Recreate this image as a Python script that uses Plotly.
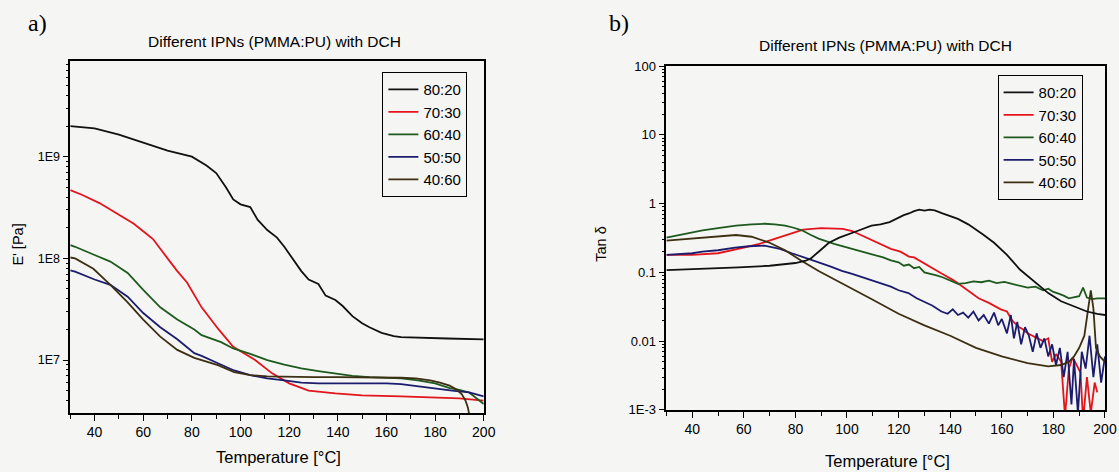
import plotly.graph_objects as go

W, H = 1119, 472
BG = "#f5f5f3"
FONT = "Liberation Sans, Arial, sans-serif"
# empirical correction between figure pixels and photographed page pixels
SX, SY, OY = 0.9857, 0.966, 8.0

series_names = ["80:20", "70:30", "60:40", "50:50", "40:60"]
series_colors = ["#111111", "#e3141b", "#1e5a1e", "#1c1c6e", "#3d2f12"]

# ---------- panel a) storage modulus E' [Pa] ----------
a_T_8020 = [30, 40, 50, 60, 70, 80, 86, 90, 94, 97, 100, 104, 107, 111, 115, 118, 121, 125, 128, 130, 132, 135, 139, 142, 146, 150, 153, 158, 163, 166, 175, 185, 200]
a_E_8020 = [2.0e9, 1.9e9, 1.65e9, 1.37e9, 1.15e9, 1.0e9, 8.2e8, 6.9e8, 5.0e8, 3.8e8, 3.4e8, 3.2e8, 2.4e8, 1.9e8, 1.6e8, 1.3e8, 1.02e8, 7.5e7, 6.2e7, 5.9e7, 5.6e7, 4.3e7, 3.9e7, 3.4e7, 2.7e7, 2.3e7, 2.1e7, 1.85e7, 1.72e7, 1.68e7, 1.65e7, 1.63e7, 1.6e7]

a_T_7030 = [30, 35, 42, 50, 56, 60, 64, 70, 74, 78, 84, 91, 97, 106, 113, 120, 128, 139, 150, 166, 180, 190, 200]
a_E_7030 = [4.7e8, 4.2e8, 3.5e8, 2.7e8, 2.2e8, 1.85e8, 1.55e8, 1.0e8, 7.5e7, 5.8e7, 3.3e7, 2.0e7, 1.35e7, 1.0e7, 7.4e6, 5.9e6, 5.0e6, 4.7e6, 4.5e6, 4.4e6, 4.3e6, 4.2e6, 4.0e6]

a_T_6040 = [30, 32, 40, 46.5, 53.6, 60, 67, 74, 81, 84, 92, 97, 104, 111, 118, 125, 132, 139, 146, 153, 160, 166, 173, 180, 186, 190, 194, 200]
a_E_6040 = [1.35e8, 1.3e8, 1.08e8, 9.3e7, 7.2e7, 4.9e7, 3.3e7, 2.5e7, 2.0e7, 1.76e7, 1.5e7, 1.3e7, 1.15e7, 1.0e7, 9.0e6, 8.3e6, 7.8e6, 7.4e6, 7.0e6, 6.8e6, 6.7e6, 6.6e6, 6.3e6, 5.9e6, 5.3e6, 5.1e6, 4.8e6, 3.7e6]

a_T_5050 = [30, 32, 40, 46.5, 53.6, 60, 67, 74, 81, 84, 90.7, 97.4, 104, 111, 118, 125, 132, 139, 146, 153, 160, 166, 173, 180, 187, 194, 200]
a_E_5050 = [7.6e7, 7.4e7, 6.2e7, 5.5e7, 4.2e7, 2.9e7, 2.1e7, 1.6e7, 1.17e7, 1.1e7, 9.3e6, 7.9e6, 7.1e6, 6.6e6, 6.3e6, 6.0e6, 5.9e6, 5.9e6, 6.0e6, 6.0e6, 5.9e6, 5.8e6, 5.5e6, 5.2e6, 5.0e6, 4.8e6, 4.4e6]

a_T_4060 = [30, 32, 39.5, 46.5, 53.6, 60, 67, 74, 81, 90.7, 97.4, 104, 111, 120, 130, 140, 150, 160, 166, 172, 178, 182, 186, 189, 191, 192.5, 193.5, 194.5]
a_E_4060 = [1.02e8, 1.0e8, 7.9e7, 5.5e7, 3.7e7, 2.5e7, 1.7e7, 1.26e7, 1.05e7, 8.9e6, 7.6e6, 7.1e6, 6.9e6, 6.8e6, 6.8e6, 6.8e6, 6.8e6, 6.8e6, 6.7e6, 6.6e6, 6.3e6, 6.0e6, 5.6e6, 5.1e6, 4.6e6, 4.0e6, 3.4e6, 2.5e6]

# ---------- panel b) Tan delta ----------
b_T_8020 = [30, 45, 58, 70, 75, 80, 84, 86, 89, 93, 97, 101, 104, 109.5, 113, 116.5, 119, 122, 124, 126, 128, 130, 132, 134, 137, 140, 143, 147, 150, 153, 157, 162, 167, 173.5, 178, 183, 188, 193, 197, 200]
b_V_8020 = [0.108, 0.112, 0.118, 0.125, 0.13, 0.137, 0.148, 0.16, 0.2, 0.27, 0.32, 0.36, 0.4, 0.48, 0.5, 0.54, 0.6, 0.68, 0.72, 0.78, 0.82, 0.79, 0.82, 0.8, 0.72, 0.66, 0.6, 0.5, 0.42, 0.35, 0.27, 0.18, 0.11, 0.068, 0.05, 0.038, 0.032, 0.027, 0.025, 0.024]

b_T_7030 = [30, 40, 50, 56, 60, 66, 72, 77.5, 83, 90, 95, 98.4, 102, 106.8, 112, 117, 120.7, 124, 126, 128, 130, 133, 137, 141.5, 146, 151, 155, 159.6, 162, 164, 166.6, 168, 170, 173.5, 176, 178, 179.5, 181, 183, 184.5, 186, 187.5, 189, 190.5, 191.5, 193, 194.5, 196, 197]
b_V_7030 = [0.18, 0.18, 0.19, 0.21, 0.23, 0.26, 0.31, 0.36, 0.42, 0.44, 0.44, 0.43, 0.4, 0.33, 0.27, 0.22, 0.2, 0.17, 0.165, 0.15, 0.135, 0.118, 0.095, 0.076, 0.058, 0.042, 0.036, 0.029, 0.027, 0.02, 0.016, 0.015, 0.013, 0.011, 0.010, 0.011, 0.005, 0.0065, 0.005, 0.0008, 0.004, 0.0058, 0.0045, 0.0035, 0.0007, 0.003, 0.0009, 0.0025, 0.0018]

b_T_6040 = [30, 37, 44, 50, 57, 63, 68, 72, 76, 79, 82.5, 86, 89, 95, 101.8, 106, 110.7, 114, 117, 120, 122, 124, 126, 128, 130, 132.7, 135, 137, 140, 143, 146, 149, 152, 155, 158, 161, 164, 167, 170, 173, 176, 178, 180, 182, 184, 186, 188, 190, 191.5, 193, 195, 197, 200]
b_V_6040 = [0.32, 0.36, 0.41, 0.44, 0.48, 0.5, 0.51, 0.5, 0.48, 0.45, 0.41, 0.35, 0.31, 0.26, 0.22, 0.2, 0.18, 0.165, 0.15, 0.14, 0.125, 0.13, 0.115, 0.12, 0.1, 0.095, 0.09, 0.085, 0.075, 0.068, 0.07, 0.074, 0.072, 0.076, 0.07, 0.073, 0.068, 0.064, 0.06, 0.062, 0.055, 0.058, 0.052, 0.049, 0.046, 0.042, 0.044, 0.045, 0.06, 0.043, 0.041, 0.042, 0.042]

b_T_5050 = [30, 40, 44, 50, 56.6, 62, 68, 74, 78.6, 84, 89, 94, 98, 102, 106, 110.7, 114, 117, 120, 123.8, 127, 130, 133, 136.6, 139, 141, 143, 145, 147, 149, 151, 153, 155, 157, 158.6, 160, 162, 163.5, 164.7, 166, 167.5, 169, 170.5, 172, 173.5, 175, 176.5, 178, 179.5, 181, 182.5, 184, 185.5, 187, 188, 189.5, 191, 192.5, 194, 195.5, 197, 198.5, 200]
b_V_5050 = [0.18, 0.19, 0.2, 0.21, 0.23, 0.24, 0.245, 0.22, 0.19, 0.16, 0.14, 0.12, 0.105, 0.095, 0.085, 0.075, 0.068, 0.062, 0.055, 0.05, 0.042, 0.037, 0.033, 0.027, 0.025, 0.029, 0.024, 0.026, 0.022, 0.027, 0.02, 0.024, 0.018, 0.026, 0.017, 0.021, 0.013, 0.024, 0.011, 0.019, 0.009, 0.016, 0.012, 0.007, 0.013, 0.008, 0.011, 0.006, 0.009, 0.0045, 0.008, 0.003, 0.007, 0.0012, 0.0055, 0.0009, 0.007, 0.004, 0.012, 0.003, 0.009, 0.0025, 0.006]

b_T_4060 = [30, 40, 50, 57, 63, 70, 76, 82, 89, 95, 102, 110, 120, 130, 140, 150, 160, 170, 178, 183, 186, 188, 190, 192, 193.5, 194.5, 195.5, 196.5, 198, 200]
b_V_4060 = [0.29, 0.31, 0.33, 0.35, 0.33, 0.27, 0.21, 0.15, 0.105, 0.08, 0.058, 0.04, 0.025, 0.017, 0.012, 0.008, 0.006, 0.0048, 0.0043, 0.0045, 0.005, 0.006, 0.008, 0.012, 0.03, 0.055, 0.03, 0.008, 0.006, 0.005]

a_x = [a_T_8020, a_T_7030, a_T_6040, a_T_5050, a_T_4060]
a_y = [a_E_8020, a_E_7030, a_E_6040, a_E_5050, a_E_4060]
b_x = [b_T_8020, b_T_7030, b_T_6040, b_T_5050, b_T_4060]
b_y = [b_V_8020, b_V_7030, b_V_6040, b_V_5050, b_V_4060]

a_tickvals = [1e7, 1e8, 1e9]
a_ticktext = ["1E7", "1E8", "1E9"]
b_tickvals = [1e-3, 1e-2, 1e-1, 1, 10, 100]
b_ticktext = ["1E-3", "0.01", "0.1", "1", "10", "100"]
A_RANGE = [6.48, 9.94]
B_RANGE = [-3, 2]


def px_x(p):
    return (p / SX) / W


def px_y(p):
    return 1 - ((p - OY) / SY) / H


def minor_log(lo, hi):
    vals = []
    for k in range(lo, hi):
        for m in range(2, 10):
            vals.append(m * 10.0 ** k)
    return vals


fig = go.Figure()
# the first series of each panel is drawn on an overlay y axis (identical range)
# that only carries the minor ticks
for i in range(5):
    fig.add_trace(go.Scatter(x=a_x[i], y=a_y[i], mode="lines", name=series_names[i],
                             line=dict(color=series_colors[i], width=1.8),
                             xaxis="x", yaxis="y3" if i == 0 else "y", legend="legend"))
for i in range(5):
    fig.add_trace(go.Scatter(x=b_x[i], y=b_y[i], mode="lines", name=series_names[i],
                             line=dict(color=series_colors[i], width=1.8),
                             xaxis="x2", yaxis="y4" if i == 0 else "y2", legend="legend2"))

axis_common = dict(showline=True, linecolor="black", linewidth=1.5, mirror=True,
                   ticks="outside", ticklen=6, tickwidth=1.2, tickcolor="black",
                   showgrid=False, zeroline=False)
xfont = dict(family=FONT, size=14, color="black")
yfont = dict(family=FONT, size=12.5, color="black")
xminor = dict(dtick=10, tick0=0, ticks="outside", ticklen=4, tickcolor="black", tickwidth=1.2)
yminor_common = dict(side="left", type="log", tickmode="array", showticklabels=False,
                     ticks="outside", ticklen=3, tickwidth=1, tickcolor="black",
                     showline=False, showgrid=False, zeroline=False)

fig.update_layout(
    width=W, height=H, autosize=False,
    margin=dict(l=0, r=0, t=0, b=0),
    paper_bgcolor=BG, plot_bgcolor=BG,
    showlegend=True,
    xaxis=dict(domain=[px_x(70), px_x(482)], range=[30, 200], anchor="y",
               tickmode="linear", tick0=0, dtick=20, tickfont=xfont, minor=xminor,
               **axis_common),
    yaxis=dict(domain=[px_y(413), px_y(62)], type="log", range=A_RANGE, anchor="x",
               tickmode="array", tickvals=a_tickvals, ticktext=a_ticktext, tickfont=yfont,
               **axis_common),
    yaxis3=dict(overlaying="y", anchor="x", range=A_RANGE, tickvals=minor_log(6, 10), **yminor_common),
    xaxis2=dict(domain=[px_x(664), px_x(1101)], range=[30, 200], anchor="y2",
                tickmode="linear", tick0=0, dtick=20, tickfont=xfont, minor=xminor,
                **axis_common),
    yaxis2=dict(domain=[px_y(410), px_y(67)], type="log", range=B_RANGE, anchor="x2",
                tickmode="array", tickvals=b_tickvals, ticktext=b_ticktext,
                tickfont=dict(family=FONT, size=13, color="black"),
                **axis_common),
    yaxis4=dict(overlaying="y2", anchor="x2", range=B_RANGE, tickvals=minor_log(-3, 2), **yminor_common),
    legend=dict(x=px_x(381), y=px_y(73), xanchor="left", yanchor="top",
                bgcolor=BG, bordercolor="black", borderwidth=1,
                font=dict(family=FONT, size=15, color="black")),
    legend2=dict(x=px_x(994), y=px_y(76), xanchor="left", yanchor="top",
                 bgcolor=BG, bordercolor="black", borderwidth=1,
                 font=dict(family=FONT, size=15, color="black")),
)


def note(text, x, y, size, family=FONT, angle=0):
    fig.add_annotation(text=text, x=px_x(x), y=px_y(y), xref="paper", yref="paper",
                       xanchor="center", yanchor="middle", showarrow=False, textangle=angle,
                       font=dict(family=family, size=size, color="black"))


title_txt = "Different IPNs (PMMA:PU) with DCH"
note(title_txt, 274, 42, 15.5)
note(title_txt, 882, 46, 15.5)
note("a)", 37, 24, 24, family="Liberation Serif, serif")
note("b)", 617, 24, 24, family="Liberation Serif, serif")
note("Temperature [°C]", 277, 457, 16.5)
note("Temperature [°C]", 884, 461, 16.5)
note("E' [Pa]", 17, 245, 14.5, angle=-90)
note("Tan δ", 598, 245, 14.5, angle=-90)

fig.write_html("out.html", config={"displayModeBar": False},
               post_script="document.body.style.margin='0';document.body.style.overflow='hidden';")
